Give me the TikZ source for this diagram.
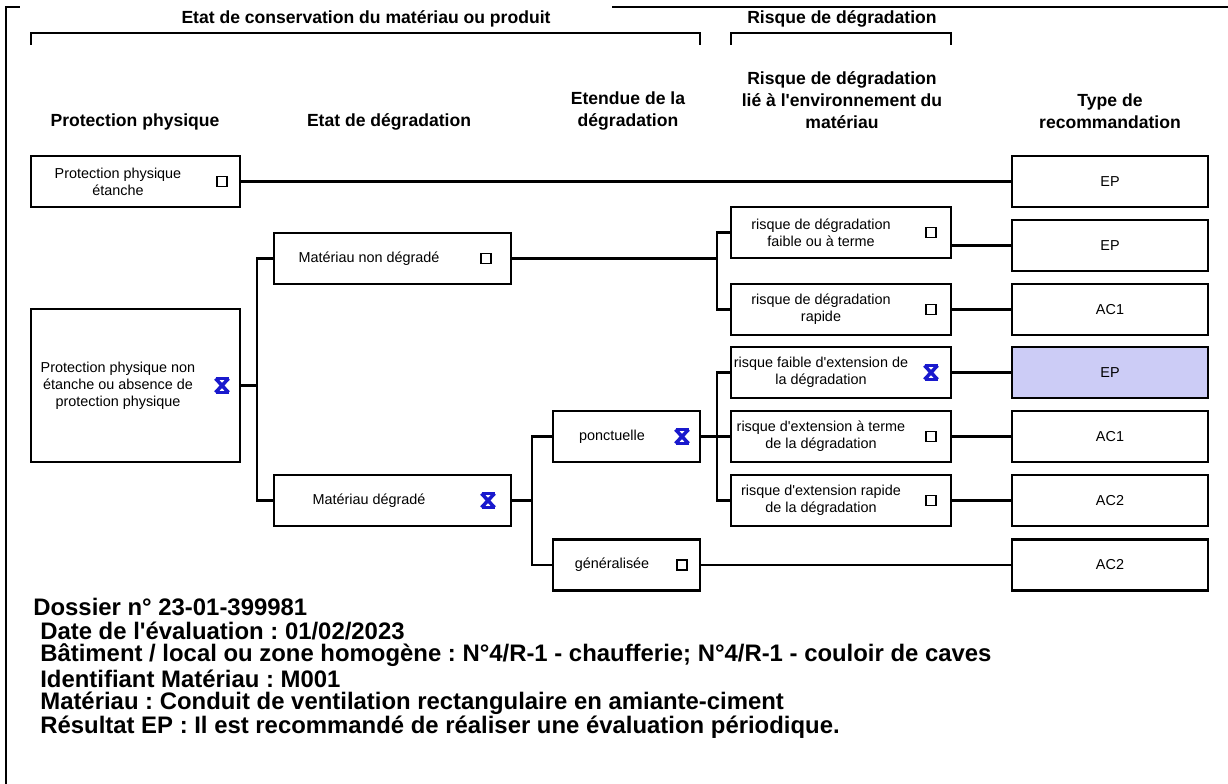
\documentclass[tikz,border=0pt]{standalone}
\usepackage{fontspec}
\setmainfont{Liberation Sans}
\usepackage{xcolor}
\usepackage{tikz}
\usetikzlibrary{positioning}
\frenchspacing

\definecolor{selfill}{RGB}{204,204,246}
\definecolor{tickblue}{RGB}{25,25,205}

\tikzset{
  choice/.style={draw, line width=1.3pt, inner sep=0pt, minimum height=1.02cm},
  typebox/.style={choice, minimum width=3.92cm, font=\fontsize{8.2}{9.6}\selectfont},
  boxtxt/.style={font=\fontsize{8.2}{9.6}\selectfont, align=center, inner sep=0pt},
  colhead/.style={font=\fontsize{10}{12.5}\selectfont\bfseries, align=center, inner sep=0pt},
  footline/.style={font=\fontsize{13.6}{13.6}\selectfont\bfseries, anchor=west, inner sep=0pt},
  cbox/.style={draw, line width=0.6pt, minimum size=0.2cm, inner sep=0pt},
  xbox/.style={minimum size=0.36cm, inner sep=0pt,
    path picture={
      \draw[tickblue, line width=2pt]
        ([xshift=0.05cm,yshift=-0.04cm]path picture bounding box.north west) -- ([xshift=-0.05cm,yshift=0.04cm]path picture bounding box.south east)
        ([xshift=-0.05cm,yshift=-0.04cm]path picture bounding box.north east) -- ([xshift=0.05cm,yshift=0.04cm]path picture bounding box.south west);
      \draw[tickblue, line width=1.4pt]
        ([xshift=0.05cm,yshift=-0.04cm]path picture bounding box.north west) -- ([xshift=-0.05cm,yshift=-0.04cm]path picture bounding box.north east)
        ([xshift=0.05cm,yshift=0.04cm]path picture bounding box.south west) -- ([xshift=-0.05cm,yshift=0.04cm]path picture bounding box.south east);}},
  conn/.style={line width=1.3pt},
  brace/.style={line width=1.3pt}
}

\begin{document}
\begin{tikzpicture}[x=0.02cm, y=-0.02cm]
    \useasboundingbox (0,0) rectangle (1228,784);
    % frame of the page
    \draw[line width=1.6pt] (6,784) -- (6,7) -- (20,7);
    \draw[line width=1.2pt] (612,7) -- (1228,7);

    % group headings
    \node[colhead] (gcons) at (366,19) {Etat de conservation du matériau ou produit};
    \node[colhead] (grisk) at (842,19) {Risque de dégradation};
    \draw[brace] (31,45) |- (700,33) -- (700,45);
    \draw[brace] (731,45) |- (951,33) -- (951,45);

    % column headings
    \node[colhead] (hprot) at (135,122) {Protection physique};
    \node[colhead] (hetat) at (389,122) {Etat de dégradation};
    \node[colhead] (hext) at (628,111) {Etendue de la\\dégradation};
    \node[colhead] (henv) at (842,100) {Risque de dégradation\\lié à l\textquotesingle environnement du\\matériau};
    \node[colhead] (htype) at (1110,111) {Type de\\recommandation};

    % protection physique
    \node[choice, minimum width=4.18cm] (ppe) at (135.5,181.5) {};
    \node[boxtxt] (ppe-txt) at (118,181.5) {Protection physique\\étanche};
    \node[cbox] (ppe-chk) at (222,181.5) {};
    \node[choice, minimum width=4.18cm, minimum height=3.06cm] (ppne) at (135.5,385.5) {};
    \node[boxtxt] (ppne-txt) at (118,385.5) {Protection physique non\\étanche ou absence de\\protection physique};
    \node[xbox] (ppne-chk) at (222,385.5) {};

    % etat de degradation
    \node[choice, minimum width=4.74cm] (mnd) at (392.5,258.5) {};
    \node[boxtxt] (mnd-txt) at (369,258.5) {Matériau non dégradé};
    \node[cbox] (mnd-chk) at (486,258.5) {};
    \node[choice, minimum width=4.74cm] (md) at (392.5,500.5) {};
    \node[boxtxt] (md-txt) at (369,500.5) {Matériau dégradé};
    \node[xbox] (md-chk) at (488,500.5) {};

    % etendue
    \node[choice, minimum width=2.94cm] (pon) at (626.5,436.5) {};
    \node[boxtxt] (pon-txt) at (612,436.5) {ponctuelle};
    \node[xbox] (pon-chk) at (682,436.5) {};
    \node[choice, minimum width=2.94cm] (gen) at (626.5,565) {};
    \node[boxtxt] (gen-txt) at (612,565) {généralisée};
    \node[cbox] (gen-chk) at (682,565) {};

    % risque lie a l'environnement
    \node[choice, minimum width=4.4cm] (r1) at (841,232.5) {};
    \node[boxtxt] (r1-txt) at (821,232.5) {risque de dégradation\\faible ou à terme};
    \node[cbox] (r1-chk) at (931,232.5) {};
    \node[choice, minimum width=4.4cm] (r2) at (841,309.5) {};
    \node[boxtxt] (r2-txt) at (821,309.5) {risque de dégradation\\rapide};
    \node[cbox] (r2-chk) at (931,309.5) {};
    \node[choice, minimum width=4.4cm] (r3) at (841,372.5) {};
    \node[boxtxt] (r3-txt) at (821,372.5) {risque faible d\textquotesingle extension de\\la dégradation};
    \node[xbox] (r3-chk) at (931,372.5) {};
    \node[choice, minimum width=4.4cm] (r4) at (841,436.5) {};
    \node[boxtxt] (r4-txt) at (821,436.5) {risque d\textquotesingle extension à terme\\de la dégradation};
    \node[cbox] (r4-chk) at (931,436.5) {};
    \node[choice, minimum width=4.4cm] (r5) at (841,500.5) {};
    \node[boxtxt] (r5-txt) at (821,500.5) {risque d\textquotesingle extension rapide\\de la dégradation};
    \node[cbox] (r5-chk) at (931,500.5) {};

    % type de recommandation
    \node[typebox] (t1) at (1110,181.5) {EP};
    \node[typebox] (t2) at (1110,245.5) {EP};
    \node[typebox] (t3) at (1110,309.5) {AC1};
    \node[typebox, fill=selfill] (t4) at (1110,372.5) {EP};
    \node[typebox] (t5) at (1110,436.5) {AC1};
    \node[typebox] (t6) at (1110,500.5) {AC2};
    \node[typebox] (t7) at (1110,565) {AC2};

    % connectors
    \coordinate (bar1) at (257,0);
    \coordinate (bar2) at (532,0);
    \coordinate (bar3) at (717,0);
    \draw[conn] (ppe.east) -- (t1.west);
    \draw[conn] (ppne.east) -- (ppne.east -| bar1) |- (mnd.west);
    \draw[conn] (ppne.east -| bar1) |- (md.west);
    \draw[conn] (mnd.east) -- (mnd.east -| bar3) |- (r1.west);
    \draw[conn] (mnd.east -| bar3) |- (r2.west);
    \draw[conn] (md.east) -- (md.east -| bar2) |- (pon.west);
    \draw[conn] (md.east -| bar2) |- (gen.west);
    \draw[conn] (pon.east) -- (r4.west);
    \draw[conn] (pon.east -| bar3) |- (r3.west);
    \draw[conn] (pon.east -| bar3) |- (r5.west);
    \draw[conn] (r1.east |- t2.west) -- (t2.west);
    \foreach \r/\t in {r2/t3, r3/t4, r4/t5, r5/t6}
      \draw[conn] (\r.east) -- (\t.west);
    \draw[conn] (gen.east) -- (t7.west);

    % dossier
    \node[footline] (f1) at (33,607) {Dossier n° 23-01-399981};
    \node[footline] (f2) at (40,631) {Date de l\textquotesingle évaluation : 01/02/2023};
    \node[footline] (f3) at (40,655) {Bâtiment / local ou zone homogène : N°4/R-1 - chaufferie; N°4/R-1 - couloir de caves};
    \node[footline] (f4) at (40,679) {Identifiant Matériau : M001};
    \node[footline] (f5) at (40,703) {Matériau : Conduit de ventilation rectangulaire en amiante-ciment};
    \node[footline] (f6) at (40,727) {Résultat EP : Il est recommandé de réaliser une évaluation périodique.};
\end{tikzpicture}
\end{document}
